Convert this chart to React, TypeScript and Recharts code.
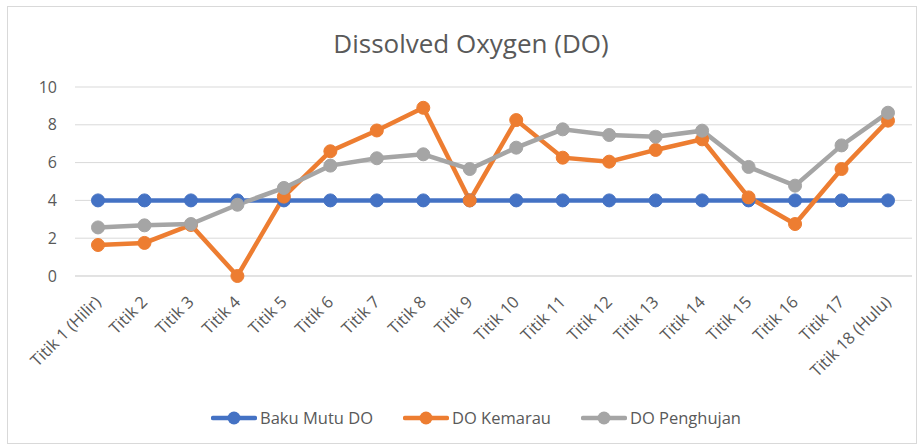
import React from 'react';
import { LineChart, Line, XAxis, YAxis, CartesianGrid } from 'recharts';

const titik = [
  'Titik 1 (Hilir)', 'Titik 2', 'Titik 3', 'Titik 4', 'Titik 5', 'Titik 6',
  'Titik 7', 'Titik 8', 'Titik 9', 'Titik 10', 'Titik 11', 'Titik 12',
  'Titik 13', 'Titik 14', 'Titik 15', 'Titik 16', 'Titik 17', 'Titik 18 (Hulu)',
];
const bakuMutu = [4, 4, 4, 4, 4, 4, 4, 4, 4, 4, 4, 4, 4, 4, 4, 4, 4, 4];
const kemarau = [1.64, 1.75, 2.7, 0, 4.2, 6.6, 7.7, 8.9, 4.0, 8.25, 6.26, 6.05, 6.67, 7.23, 4.16, 2.75, 5.66, 8.22];
const penghujan = [2.57, 2.68, 2.75, 3.77, 4.66, 5.84, 6.23, 6.44, 5.66, 6.79, 7.76, 7.46, 7.37, 7.69, 5.77, 4.78, 6.91, 8.64];
const yTicks = [0, 2, 4, 6, 8, 10];

const series = [
  { key: 'baku', name: 'Baku Mutu DO', color: '#4472C4' },
  { key: 'kemarau', name: 'DO Kemarau', color: '#ED7D31' },
  { key: 'penghujan', name: 'DO Penghujan', color: '#A5A5A5' },
];

const data = titik.map((t, i) => ({
  name: t,
  baku: bakuMutu[i],
  kemarau: kemarau[i],
  penghujan: penghujan[i],
}));

const font = '"Open Sans", sans-serif';
const textColor = '#595959';

function XTick(props: any) {
  const { x, y, payload } = props;
  const ax = x + 4;
  const ay = y + 19;
  return (
    <text
      x={ax}
      y={ay}
      textAnchor="end"
      transform={`rotate(-45 ${ax} ${ay})`}
      fill={textColor}
      fontSize={16.5}
      fontFamily={font}
    >
      {payload.value}
    </text>
  );
}

export default function App() {
  return (
    <div style={{ position: 'absolute', left: 0, top: 0, width: 919, height: 447, background: '#fff' }}>
      <style>{'body{margin:0}'}</style>
      <div
        style={{
          position: 'absolute', left: 7, top: 6, width: 910, height: 438,
          border: '1px solid #d9d9d9', boxSizing: 'border-box',
        }}
      />
      <div
        style={{
          position: 'absolute', left: 0, top: 25, width: 942, textAlign: 'center',
          fontFamily: font, fontSize: 26, color: textColor,
        }}
      >
        Dissolved Oxygen (DO)
      </div>
      <LineChart
        width={919}
        height={447}
        data={data}
        margin={{ top: 87, right: 7, bottom: 61, left: 15 }}
        style={{ position: 'absolute', left: 0, top: 0 }}
      >
        <CartesianGrid vertical={false} stroke="#d9d9d9" strokeWidth={1} />
        <XAxis
          dataKey="name"
          interval={0}
          height={110}
          padding={{ left: 23, right: 24 }}
          tick={<XTick />}
          tickLine={false}
          axisLine={{ stroke: '#d9d9d9' }}
        />
        <YAxis
          domain={[0, 10]}
          ticks={yTicks}
          width={60}
          tickLine={false}
          axisLine={false}
          tick={{ fill: textColor, fontSize: 16, fontFamily: font }}
          tickMargin={12}
        />
        {series.map((s) => (
          <Line
            key={s.key}
            dataKey={s.key}
            name={s.name}
            stroke={s.color}
            strokeWidth={4.5}
            dot={{ r: 6.5, fill: s.color, stroke: s.color, strokeWidth: 1 }}
            activeDot={false}
            isAnimationActive={false}
          />
        ))}
      </LineChart>
      <div
        style={{
          position: 'absolute', left: 0, top: 406, width: 952, display: 'flex',
          justifyContent: 'center', gap: 30, fontFamily: font, fontSize: 16.5, color: textColor,
        }}
      >
        {series.map((s) => (
          <div key={s.key} style={{ display: 'flex', alignItems: 'center', gap: 3 }}>
            <svg width={46} height={14}>
              <line x1={2} y1={7} x2={44} y2={7} stroke={s.color} strokeWidth={4.5} strokeLinecap="round" />
              <circle cx={23} cy={7} r={6.5} fill={s.color} />
            </svg>
            <span>{s.name}</span>
          </div>
        ))}
      </div>
    </div>
  );
}
